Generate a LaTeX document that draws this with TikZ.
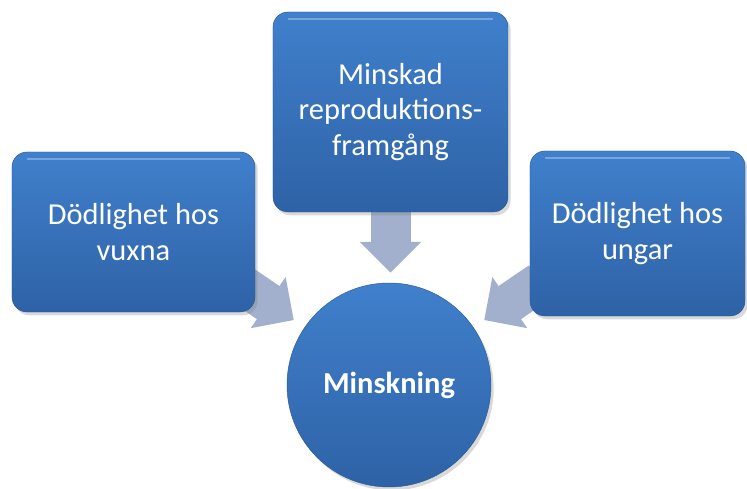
\documentclass[tikz,border=0pt]{standalone}
\usepackage{fontspec}
\setmainfont{Carlito}
\usepackage{tikz}
\usetikzlibrary{positioning,shapes,arrows.meta,shadows,backgrounds}

\definecolor{boxtop}{RGB}{64,128,204}
\definecolor{boxbot}{RGB}{46,98,166}
\definecolor{boxrim}{RGB}{42,90,152}
\definecolor{pilfarg}{RGB}{162,176,205}

\tikzset{
  ruta/.style={rectangle,rounded corners=0.45cm,inner sep=0pt,
    top color=boxtop,bottom color=boxbot,draw=boxrim,thin,
    text=white,align=center,font=\fontsize{26}{30}\selectfont,
    drop shadow={shadow xshift=0.08cm,shadow yshift=-0.1cm,opacity=0.3},
    path picture={\draw[white,opacity=0.3,line width=1.5pt]
      ([xshift=0.45cm,yshift=-0.2cm]path picture bounding box.north west) --
      ([xshift=-0.45cm,yshift=-0.2cm]path picture bounding box.north east);}},
  rund/.style={circle,inner sep=0pt,
    top color=boxtop,bottom color=boxbot,draw=boxrim,thin,
    text=white,font=\fontsize{26}{30}\selectfont\bfseries,
    drop shadow={shadow xshift=0.08cm,shadow yshift=-0.1cm,opacity=0.3}},
  pil/.style={draw=pilfarg,line width=1.2cm,
    -{Triangle[width=1.8cm,length=0.93cm]}}
}

\begin{document}
\begin{tikzpicture}[x=0.03cm,y=-0.03cm]
            \useasboundingbox (0,0) rectangle (747,489);
            \node[ruta,minimum width=7.29cm,minimum height=4.8cm] (vuxna) at (133.5,232) {Dödlighet hos\\vuxna};
            \node[ruta,minimum width=7.05cm,minimum height=6cm] (repro) at (390.5,112) {Minskad\\reproduktions-\\framgång};
            \node[ruta,minimum width=6.45cm,minimum height=4.95cm] (ungar) at (637.5,233.5) {Dödlighet hos\\ungar};
            \node[rund,minimum size=6.12cm] (minsk) at (389,385) {Minskning};
            \coordinate (fran vuxna) at (238,282);
            \coordinate (fran ungar) at (540,282);
            \begin{scope}[on background layer]
                \draw[pil,shorten >=0.3cm] (repro.south) -- (repro.south |- minsk.north);
                \draw[pil,shorten >=0.39cm] (fran vuxna) -- (minsk);
                \draw[pil,shorten >=0.39cm] (fran ungar) -- (minsk);
            \end{scope}
        \end{tikzpicture}
\end{document}
